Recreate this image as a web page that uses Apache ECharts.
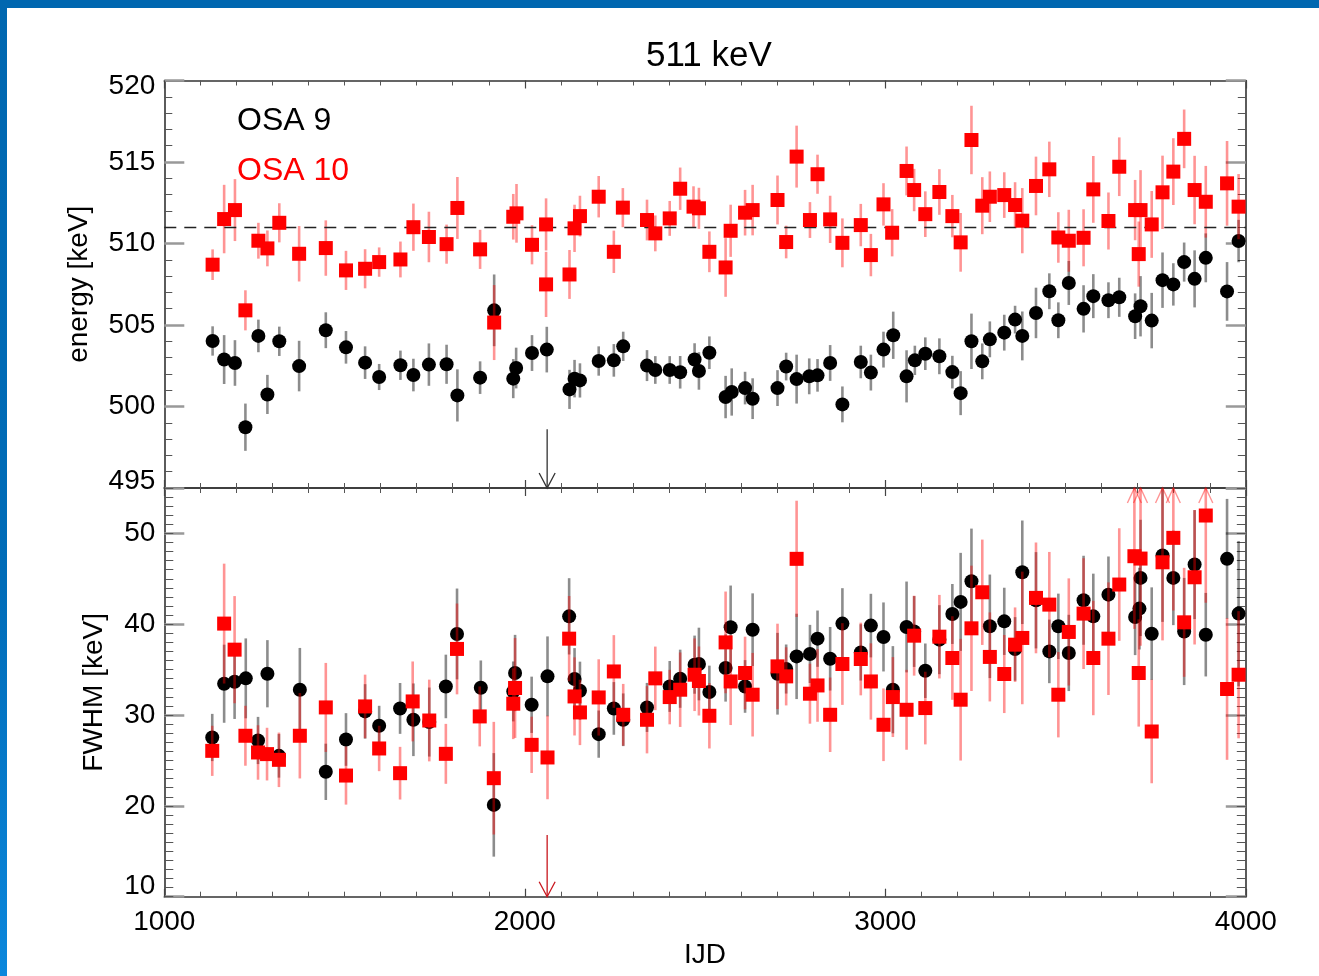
<!DOCTYPE html>
<html>
<head>
<meta charset="utf-8">
<title>511 keV</title>
<script src="https://cdn.jsdelivr.net/npm/echarts@6/dist/echarts.min.js"></script>
<style>
  html, body { margin: 0; padding: 0; background: #fff; }
  #chart { width: 1319px; height: 976px; }
</style>
</head>
<body>
<div id="chart"></div>
<script>
// ---- Line energy per revolution group (IJD), OSA 9 ----
const ijdEnergy9 = [1134,1166,1196,1225,1261,1286,1319,1374,1448,1504,1557,1596,1655,1691,1734,1783,1813,1876,1915,1968,1976,2020,2061,
  2124,2138,2153,2205,2247,2273,2339,2362,2402,2431,2471,2483,2512,2557,2574,2611,2632,2701,2725,2754,2789,2812,2847,2881,2932,2960,2995,3022,3059,3082,3111,3150,
  3186,3209,3239,3269,3290,3330,3360,3380,3418,3455,3480,3509,3550,3577,3619,3649,3693,3708,3739,3769,3799,3829,3858,3889,3948,3980];
const energy9 = [504.02,502.88,502.67,498.73,504.33,500.74,504.0,502.48,504.68,503.63,502.69,501.81,502.53,501.93,502.57,502.59,500.68,501.77,505.9,501.71,502.36,503.28,503.49,
  501.05,501.71,501.6,502.79,502.83,503.69,502.51,502.24,502.24,502.1,502.88,502.18,503.3,500.58,500.89,501.13,500.48,501.13,502.45,501.68,501.85,501.91,502.67,500.13,502.73,502.08,503.49,504.37,501.85,502.83,503.24,503.08,
  502.11,500.82,504.0,502.77,504.12,504.53,505.33,504.33,505.74,507.07,505.29,507.58,505.99,506.77,506.52,506.7,505.54,506.15,505.27,507.75,507.49,508.86,507.83,509.12,507.06,510.15];
const energyErr9 = [0.9,1.5,1.4,1.45,1.0,1.2,0.9,1.55,1.1,1.0,1.0,0.8,0.9,1.0,1.3,1.2,1.6,1.0,2.2,1.2,1.25,1.1,1.4,
  1.2,1.15,1.05,0.9,1.0,0.9,0.95,0.85,0.85,1.0,1.0,1.15,1.0,1.3,1.45,1.0,1.25,1.1,0.85,1.5,1.1,1.0,1.1,1.1,1.0,1.1,1.1,1.45,1.6,0.9,1.0,1.1,
  1.0,1.35,1.7,1.1,1.1,1.1,0.85,1.5,1.55,1.1,1.1,1.35,1.45,1.35,1.1,1.2,1.4,1.85,1.7,1.7,1.3,1.2,1.75,1.5,1.8,1.3];

// ---- Line energy, OSA 10 ----
const ijdEnergy10 = [1134,1166,1196,1225,1261,1286,1319,1374,1448,1504,1557,1596,1655,1691,1734,1783,1813,1876,1915,1968,1977,2020,2059,2059,
  2124,2138,2153,2205,2247,2272,2339,2362,2402,2431,2468,2483,2512,2557,2571,2611,2632,2701,2725,2754,2791,2812,2847,2881,2932,2960,2995,3019,3059,3080,3111,3150,
  3186,3209,3239,3269,3290,3330,3360,3380,3418,3455,3480,3509,3550,3577,3619,3649,3693,3703,3708,3739,3769,3799,3829,3858,3889,3948,3980];
const energy10 = [508.7,511.5,512.05,505.9,510.17,509.7,511.27,509.37,509.72,508.35,508.45,508.86,509.02,511.0,510.4,509.96,512.18,509.64,505.15,511.64,511.85,509.92,511.17,507.49,
  508.1,510.93,511.68,512.87,509.49,512.2,511.44,510.62,511.54,513.36,512.26,512.16,509.49,508.53,510.78,511.89,512.05,512.67,510.09,515.33,511.44,514.25,511.48,510.04,511.13,509.29,512.4,510.66,514.45,513.28,511.8,513.16,
  511.68,510.07,516.35,512.32,512.87,512.97,512.36,511.4,513.53,514.55,510.37,510.17,510.35,513.32,511.38,514.71,512.05,509.35,512.05,511.17,513.14,514.41,516.42,513.28,512.56,513.69,512.26];
const energyErr10 = [0.94,2.1,1.9,1.23,1.1,1.1,1.2,1.7,1.7,1.2,1.2,0.9,1.1,1.45,1.55,1.2,1.9,1.2,2.3,1.4,1.8,1.2,1.6,2.0,
  1.5,1.45,1.25,1.27,1.3,1.2,1.25,1.1,1.07,1.3,1.25,1.26,1.25,1.8,1.6,1.4,1.55,1.5,1.0,1.9,1.1,1.2,1.45,1.5,1.3,1.3,1.3,1.45,1.5,1.3,1.4,1.4,
  1.3,1.8,2.1,1.75,1.55,1.4,1.4,2.0,1.8,1.7,1.55,1.9,1.75,2.05,1.75,1.8,1.85,2.0,2.45,2.05,2.25,2.05,1.8,2.1,2.2,2.6,2.0];

// ---- Line width (FWHM), OSA 9 ----
const ijdFwhm9 = [1133,1166,1195,1226,1260,1286,1318,1376,1448,1504,1557,1596,1654,1691,1735,1781,1812,1878,1914,1968,1973,2019,2063,
  2123,2138,2153,2205,2247,2273,2339,2402,2431,2471,2483,2512,2557,2571,2611,2632,2701,2725,2754,2791,2812,2847,2881,2932,2960,2995,3021,3059,3080,3111,3150,
  3186,3209,3239,3290,3330,3360,3380,3418,3455,3480,3509,3550,3577,3619,3693,3705,3708,3739,3769,3799,3829,3858,3889,3948,3980];
const fwhm9 = [27.53,33.45,33.67,34.04,27.2,34.55,25.51,32.79,23.75,27.31,30.4,28.82,30.73,29.48,29.23,33.15,38.93,33.01,20.11,32.6,34.63,31.13,34.26,
  40.87,33.97,32.68,27.9,30.73,29.48,30.84,33.15,34.0,35.55,35.62,32.54,35.18,39.66,33.15,39.4,34.55,35.07,36.46,36.73,38.41,36.2,40.07,36.9,39.85,38.6,32.79,39.7,39.2,34.88,38.3,
  41.13,42.46,44.73,39.77,40.32,37.28,45.72,42.64,37.01,39.77,36.84,42.64,40.87,43.26,40.8,41.72,45.1,38.96,47.56,45.1,39.2,46.57,38.85,47.2,41.17];
const fwhmErr9 = [2.6,4.3,4.1,4.4,2.6,3.7,2.4,4.6,3.1,2.9,3.0,2.2,2.8,4.0,3.8,3.5,5.0,3.0,5.7,3.3,4.2,3.1,4.4,
  4.2,3.4,3.2,2.6,2.9,2.9,2.7,2.8,3.2,3.2,4.0,2.9,3.7,4.6,2.9,4.0,4.5,2.7,4.7,3.2,3.1,3.5,3.9,3.1,3.5,3.8,4.8,5.0,3.9,3.0,3.8,
  3.3,5.4,5.8,5.7,3.7,3.5,5.7,5.3,3.5,3.6,4.2,4.9,4.7,4.2,4.2,4.5,6.4,5.1,7.3,5.2,5.9,6.0,4.6,6.6,8.0];

// ---- Line width (FWHM), OSA 10 ----
const ijdFwhm10 = [1133,1166,1195,1225,1260,1285,1318,1376,1448,1504,1557,1596,1654,1689,1735,1781,1812,1875,1914,1968,1973,2019,2063,
  2123,2138,2153,2205,2247,2273,2339,2362,2402,2431,2471,2483,2512,2557,2571,2611,2632,2701,2725,2754,2791,2812,2847,2881,2932,2960,2995,3021,3059,3080,3111,3150,
  3186,3209,3239,3269,3290,3330,3360,3380,3418,3455,3480,3509,3550,3577,3619,3649,3691,3703,3708,3739,3769,3799,3829,3858,3889,3948,3980];
const fwhm10 = [26.06,40.07,37.2,27.72,25.88,25.7,25.07,27.72,30.84,23.34,30.95,26.32,23.6,31.5,29.4,25.73,37.28,29.85,23.05,31.25,32.98,26.72,25.33,
  38.41,32.05,30.29,31.94,34.8,30.03,29.48,34.04,31.98,32.79,34.44,33.75,29.92,38.0,33.7,34.63,32.24,35.36,34.26,47.2,32.35,33.26,30.03,35.62,36.17,33.7,28.93,31.98,30.58,38.74,30.77,38.63,
  36.28,31.69,39.55,43.52,36.4,34.52,37.75,38.49,42.9,42.16,32.24,39.15,41.17,36.28,38.41,44.37,47.49,34.63,47.23,28.19,46.82,49.51,40.21,45.17,51.97,32.87,34.44];
const fwhmErr10 = [2.76,6.6,5.9,3.3,3.0,2.9,3.0,4.7,4.9,3.2,3.5,2.5,2.9,4.4,4.5,3.3,5.0,3.3,6.2,3.9,5.5,3.1,4.6,
  4.7,4.3,3.6,4.2,4.0,3.4,3.7,3.5,3.0,4.1,4.0,3.8,3.6,5.6,4.8,4.0,4.6,4.7,3.2,6.4,3.3,4.0,4.1,4.5,4.0,4.2,4.0,4.4,4.4,4.4,4.0,4.6,
  4.6,6.7,6.9,5.8,4.9,4.3,4.1,7.3,6.1,5.8,4.7,5.9,6.1,6.3,6.2,6.2,8.0,5.9,9.6,5.7,8.6,8.0,6.0,7.4,9.6,7.8,7.0];

// Reference line at the rest energy and the event marker (IJD, arrow start, arrow tip)
const restEnergy = 511;
const energyEvent = [[2062, 498.6, 495]];
const fwhmEvent = [[2062, 16.8, 10]];

const energyRange = [495, 520];
const fwhmRange = [10, 55];

const FONT = "'Liberation Sans', Arial, Helvetica, sans-serif";
const BLACK_BAR = 'rgba(0,0,0,0.45)';
const RED_BAR = 'rgba(255,0,0,0.42)';

function zip3(x, v, e) { return x.map((d, i) => [d, v[i], e[i]]); }
function zip2(x, v) { return x.map((d, i) => [d, v[i]]); }

// Vertical error bar; if the upper end leaves the panel an open arrowhead is drawn at the frame.
function errorBars(color, yMin, yMax) {
  return function (params, api) {
    const x = api.value(0), v = api.value(1), e = api.value(2);
    const lo = Math.max(v - e, yMin), hi = Math.min(v + e, yMax);
    const p1 = api.coord([x, lo]), p2 = api.coord([x, hi]);
    const children = [{
      type: 'line',
      shape: { x1: p1[0], y1: p1[1], x2: p2[0], y2: p2[1] },
      style: { stroke: color, lineWidth: 2.6 }
    }];
    if (v + e > yMax) {
      children.push({
        type: 'polyline',
        shape: { points: [[p2[0] - 7, p2[1] + 15], [p2[0], p2[1]], [p2[0] + 7, p2[1] + 15]] },
        style: { stroke: color, fill: 'none', lineWidth: 1.4 }
      });
    }
    return { type: 'group', children };
  };
}

// Downward arrow with an open head
function eventArrow(color) {
  return function (params, api) {
    const a = api.coord([api.value(0), api.value(1)]);
    const b = api.coord([api.value(0), api.value(2)]);
    return {
      type: 'group',
      children: [
        { type: 'line', shape: { x1: a[0], y1: a[1], x2: b[0], y2: b[1] }, style: { stroke: color, lineWidth: 1.3 } },
        { type: 'polyline', shape: { points: [[b[0] - 8, b[1] - 15], [b[0], b[1]], [b[0] + 8, b[1] - 15]] },
          style: { stroke: color, fill: 'none', lineWidth: 1.3 } }
      ]
    };
  };
}

const frameLine = { show: true, onZero: false, lineStyle: { color: '#333', width: 1.6 } };

function xAxisDef(gridIndex, position, showLabels) {
  return {
    type: 'value', gridIndex, position, min: 1000, max: 4000, interval: 1000,
    splitLine: { show: false },
    axisLine: frameLine,
    axisTick: { show: true, inside: true, length: 8, lineStyle: { color: '#444', width: 1.2 } },
    minorTick: { show: true, splitNumber: 10, length: 5, lineStyle: { color: '#555', width: 1 } },
    axisLabel: { show: showLabels, margin: 12, fontSize: 28, fontFamily: FONT, color: '#000',
      formatter: v => String(v) }
  };
}

const labelRich = {
  down: { fontSize: 28, fontFamily: FONT, color: '#000', padding: [12, 0, 0, 0] },
  up: { fontSize: 28, fontFamily: FONT, color: '#000', padding: [0, 0, 14, 0] },
  up2: { fontSize: 28, fontFamily: FONT, color: '#000', padding: [0, 0, 20, 0] }
};

const option = {
  animation: false,
  backgroundColor: '#ffffff',
  title: {
    text: '511 keV', left: 641, top: 34,
    textStyle: { fontSize: 35, fontWeight: 'normal', fontFamily: FONT, color: '#000' }
  },
  legend: {
    orient: 'vertical', left: 227, top: 100, itemWidth: 0, itemHeight: 0, itemGap: 18,
    selectedMode: false,
    textStyle: { fontSize: 32, fontFamily: FONT },
    data: [
      { name: 'OSA 9', textStyle: { color: '#000' } },
      { name: 'OSA 10', textStyle: { color: '#ff0000' } }
    ]
  },
  graphic: [
    { type: 'rect', left: 0, top: 0, silent: true, shape: { width: 1319, height: 8 }, style: { fill: '#0067b0' } },
    { type: 'rect', left: 0, top: 0, silent: true, shape: { width: 7, height: 976 },
      style: { fill: { type: 'linear', x: 0, y: 0, x2: 0, y2: 1,
        colorStops: [{ offset: 0, color: '#0067b0' }, { offset: 0.6, color: '#006cb8' }, { offset: 1, color: '#0b87dc' }] } } }
  ],
  grid: [
    { left: 164.3, top: 80.5, width: 1081.5, height: 407.5 },
    { left: 164.3, top: 488, width: 1081.5, height: 408.7 }
  ],
  xAxis: [
    xAxisDef(0, 'bottom', false),
    xAxisDef(0, 'top', false),
    Object.assign(xAxisDef(1, 'bottom', true), {
      name: 'IJD', nameLocation: 'middle', nameGap: 45,
      nameTextStyle: { fontSize: 28, fontFamily: FONT, color: '#000' }
    }),
    xAxisDef(1, 'top', false)
  ],
  yAxis: [
    { // 0: energy, left
      type: 'value', gridIndex: 0, position: 'left', min: energyRange[0], max: energyRange[1], interval: 5,
      name: 'energy [keV]', nameLocation: 'middle', nameGap: 71,
      nameTextStyle: { fontSize: 28, fontFamily: FONT, color: '#000' },
      splitLine: { show: false }, axisLine: frameLine,
      axisTick: { show: true, inside: true, length: 20, lineStyle: { color: '#999', width: 2.5 } },
      minorTick: { show: true, splitNumber: 5, length: 8, lineStyle: { color: '#555', width: 1 } },
      axisLabel: { margin: 9, fontSize: 28, fontFamily: FONT, color: '#000', rich: labelRich,
        formatter: v => v === 520 ? '{down|520}' : (v === 495 ? '{up|495}' : String(v)) }
    },
    { // 1: energy, right
      type: 'value', gridIndex: 0, position: 'right', min: energyRange[0], max: energyRange[1], interval: 5,
      splitLine: { show: false }, axisLine: frameLine,
      axisTick: { show: true, inside: true, length: 20, lineStyle: { color: '#999', width: 2.5 } },
      minorTick: { show: true, splitNumber: 5, length: 8, lineStyle: { color: '#555', width: 1 } },
      axisLabel: { show: false }
    },
    { // 2: FWHM, left, labelled
      type: 'value', gridIndex: 1, position: 'left', min: fwhmRange[0], max: fwhmRange[1], interval: 10,
      name: 'FWHM [keV]', nameLocation: 'middle', nameGap: 56,
      nameTextStyle: { fontSize: 28, fontFamily: FONT, color: '#000' },
      splitLine: { show: false }, axisLine: frameLine,
      axisTick: { show: true, inside: true, length: 20, lineStyle: { color: '#999', width: 2.5 } },
      axisLabel: { margin: 9, fontSize: 28, fontFamily: FONT, color: '#000', showMaxLabel: false, rich: labelRich,
        formatter: v => v === 10 ? '{up2|10}' : String(v) }
    },
    { // 3: FWHM, left, unit ticks
      type: 'value', gridIndex: 1, position: 'left', min: fwhmRange[0], max: fwhmRange[1], interval: 1,
      splitLine: { show: false }, axisLine: { show: false },
      axisTick: { show: true, inside: true, length: 9, lineStyle: { color: '#555', width: 1 } },
      axisLabel: { show: false }
    },
    { // 4: FWHM, right
      type: 'value', gridIndex: 1, position: 'right', min: fwhmRange[0], max: fwhmRange[1], interval: 10,
      splitLine: { show: false }, axisLine: frameLine,
      axisTick: { show: true, inside: true, length: 20, lineStyle: { color: '#999', width: 2.5 } },
      axisLabel: { show: false }
    },
    { // 5: FWHM, right, unit ticks
      type: 'value', gridIndex: 1, position: 'right', min: fwhmRange[0], max: fwhmRange[1], interval: 1,
      splitLine: { show: false }, axisLine: { show: false },
      axisTick: { show: true, inside: true, length: 9, lineStyle: { color: '#555', width: 1 } },
      axisLabel: { show: false }
    }
  ],
  series: [
    // energy panel
    { type: 'custom', name: 'OSA 9', xAxisIndex: 0, yAxisIndex: 0, z: 2, silent: true,
      renderItem: errorBars(BLACK_BAR, energyRange[0], energyRange[1]),
      encode: { x: 0, y: 1 }, data: zip3(ijdEnergy9, energy9, energyErr9) },
    { type: 'scatter', name: 'OSA 9', xAxisIndex: 0, yAxisIndex: 0, z: 3, silent: true,
      symbol: 'circle', symbolSize: 14, itemStyle: { color: '#000', opacity: 1 },
      data: zip2(ijdEnergy9, energy9),
      markLine: { silent: true, symbol: ['none', 'none'], label: { show: false },
        lineStyle: { color: '#222', width: 1.4, type: [12, 8] },
        data: [{ yAxis: restEnergy }] } },
    { type: 'custom', name: 'OSA 10', xAxisIndex: 0, yAxisIndex: 0, z: 4, silent: true,
      renderItem: errorBars(RED_BAR, energyRange[0], energyRange[1]),
      encode: { x: 0, y: 1 }, data: zip3(ijdEnergy10, energy10, energyErr10) },
    { type: 'scatter', name: 'OSA 10', xAxisIndex: 0, yAxisIndex: 0, z: 5, silent: true,
      symbol: 'rect', symbolSize: 14, itemStyle: { color: '#ff0000', opacity: 1 },
      data: zip2(ijdEnergy10, energy10) },
    { type: 'custom', xAxisIndex: 0, yAxisIndex: 0, z: 6, silent: true,
      renderItem: eventArrow('#333'), encode: { x: 0, y: 1 }, data: energyEvent },

    // FWHM panel
    { type: 'custom', name: 'OSA 9', xAxisIndex: 2, yAxisIndex: 2, z: 2, silent: true,
      renderItem: errorBars(BLACK_BAR, fwhmRange[0], fwhmRange[1]),
      encode: { x: 0, y: 1 }, data: zip3(ijdFwhm9, fwhm9, fwhmErr9) },
    { type: 'scatter', name: 'OSA 9', xAxisIndex: 2, yAxisIndex: 2, z: 3, silent: true,
      symbol: 'circle', symbolSize: 14, itemStyle: { color: '#000', opacity: 1 },
      data: zip2(ijdFwhm9, fwhm9) },
    { type: 'custom', name: 'OSA 10', xAxisIndex: 2, yAxisIndex: 2, z: 4, silent: true,
      renderItem: errorBars(RED_BAR, fwhmRange[0], fwhmRange[1]),
      encode: { x: 0, y: 1 }, data: zip3(ijdFwhm10, fwhm10, fwhmErr10) },
    { type: 'scatter', name: 'OSA 10', xAxisIndex: 2, yAxisIndex: 2, z: 5, silent: true,
      symbol: 'rect', symbolSize: 14, itemStyle: { color: '#ff0000', opacity: 1 },
      data: zip2(ijdFwhm10, fwhm10) },
    { type: 'custom', xAxisIndex: 2, yAxisIndex: 2, z: 6, silent: true,
      renderItem: eventArrow('#c8161d'), encode: { x: 0, y: 1 }, data: fwhmEvent }
  ]
};

const chart = echarts.init(document.getElementById('chart'), null, { renderer: 'canvas' });
chart.setOption(option);
</script>
</body>
</html>
